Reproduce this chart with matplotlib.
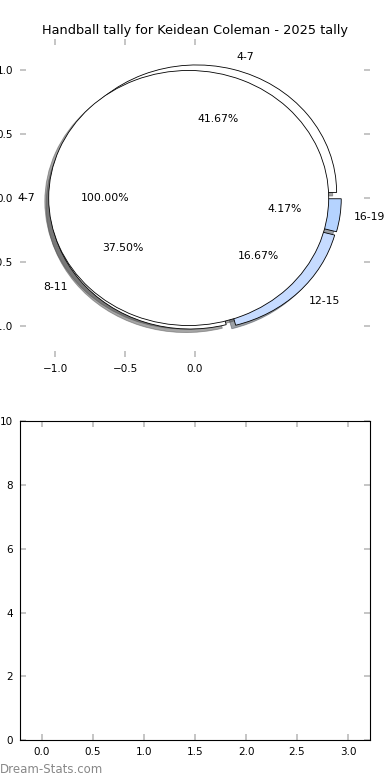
import numpy as np
import matplotlib
matplotlib.use("Agg")
import matplotlib.pyplot as plt

# outer ring: kick counts per distance band
labels = ['4-7', '8-11', '12-15', '16-19']
counts = [10, 9, 4, 1]
colors = ['#ffffff', '#ffffff', '#c6dbff', '#b5d3ff']

# inner pie: one band only
inner_labels = ['4-7']
inner_counts = [1]
inner_colors = ['#ffffff']

title = 'Handball tally for Keidean Coleman - 2025 tally'

fig = plt.figure(figsize=(3.9, 7.8), dpi=100)
ax1 = fig.add_axes([0.0513, 0.5418, 0.8974, 0.4087])
ax2 = fig.add_axes([0.0513, 0.051, 0.8974, 0.409])

wp = dict(edgecolor='black', linewidth=0.6)
tp = dict(fontsize=7.8)
ax1.pie(counts, labels=labels, colors=colors, explode=[0.045] * len(counts),
        autopct='%.2f%%', startangle=0, shadow=True, frame=True,
        wedgeprops=wp, textprops=tp)
ax1.pie(inner_counts, labels=inner_labels, colors=inner_colors, explode=[0.045],
        autopct='%.2f%%', startangle=0, shadow=True, frame=True,
        wedgeprops=wp, textprops=tp)

ax1.set_aspect('auto')
ax1.set_xlim(-1.25, 1.25)
ax1.set_ylim(-1.25, 1.25)
ax1.set_xticks([-1.0, -0.5, 0.0])
ax1.set_yticks([-1.0, -0.5, 0.0, 0.5, 1.0])
for s in ax1.spines.values():
    s.set_visible(False)
ax1.set_title(title, fontsize=9.3, pad=3)

ax2.set_xlim(-0.215, 3.215)
ax2.set_ylim(0, 10)
ax2.set_xticks(np.arange(0, 3.01, 0.5))
ax2.set_yticks(np.arange(0, 11, 2))

for ax in (ax1, ax2):
    ax.tick_params(direction='in', length=4, width=1.2, color='#bbbbbb',
                   top=True, right=True, labelsize=7.5, pad=5)

fig.text(0.0, 0.005, 'Dream-Stats.com', fontsize=8.5,
         color='#888888', ha='left', va='bottom')

fig.savefig('out.png', dpi=100)
